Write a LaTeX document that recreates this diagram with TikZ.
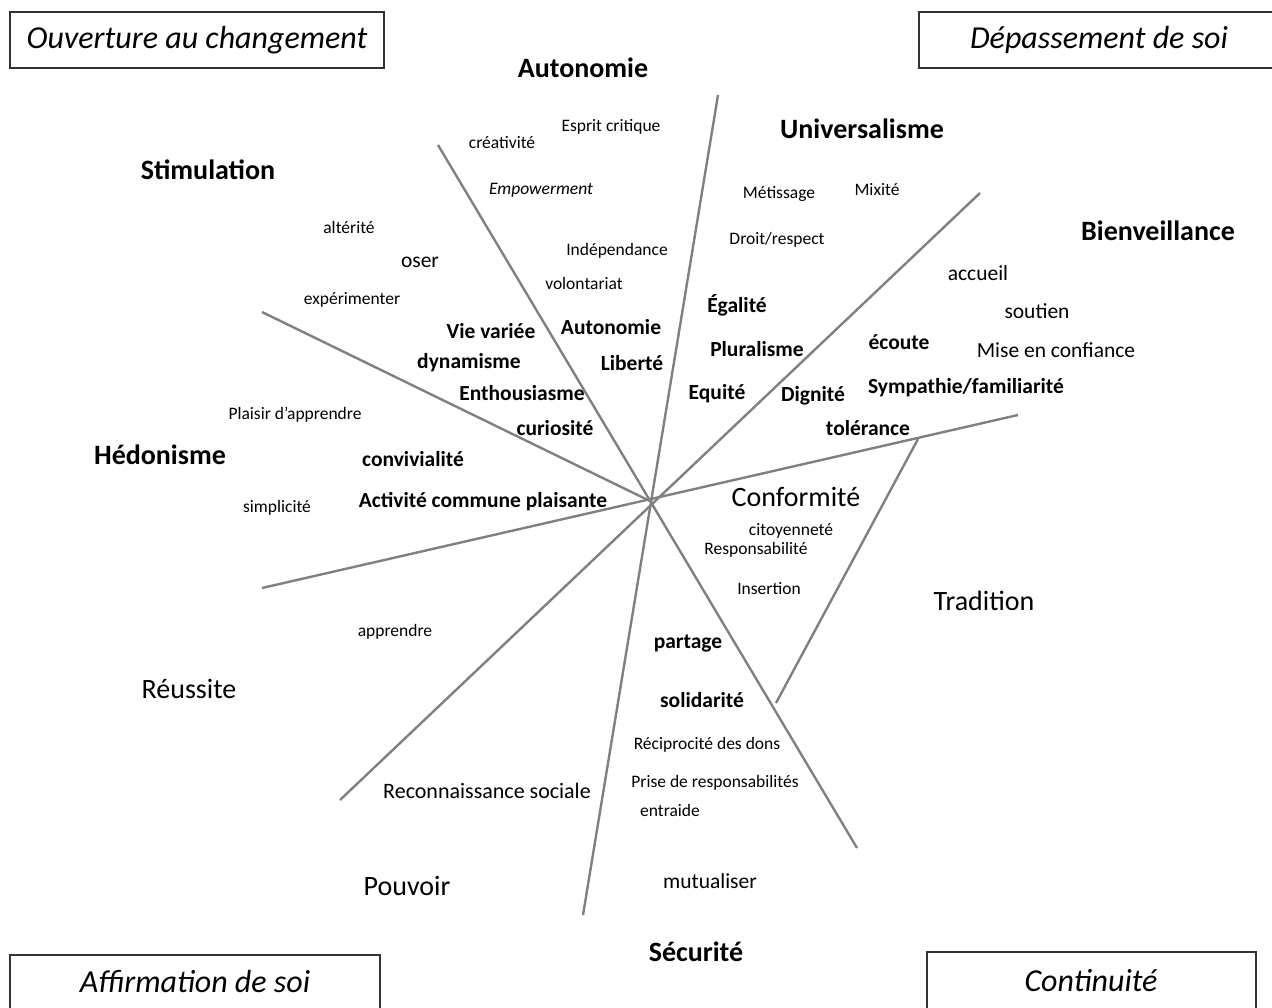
\documentclass[tikz,border=0pt]{standalone}
\usepackage{fontspec}
\setmainfont{Carlito}
\usepackage{tikz}
\usetikzlibrary{positioning}
\tikzset{
  value/.style={font=\fontsize{28}{30}\selectfont\bfseries},
  valuelt/.style={font=\fontsize{28}{30}\selectfont},
  kw/.style={font=\fontsize{21.5}{23}\selectfont\bfseries},
  kwlt/.style={font=\fontsize{21.5}{23}\selectfont},
  small/.style={font=\fontsize{17.5}{19}\selectfont},
  pole/.style={draw=black!80,line width=1.3pt,minimum height=56pt,font=\fontsize{32}{34}\selectfont\itshape},
  axe/.style={draw=black!50,line width=2.4pt}
}
\begin{document}
\begin{tikzpicture}[x=1pt,y=-1pt,inner sep=1pt]
        \useasboundingbox (0,0) rectangle (1272,1008);
        % axes
        \coordinate(c) at (652,502);
        \coordinate(a1) at (438,145);
        \coordinate(a2) at (857,848);
        \coordinate(b1) at (718,95);
        \coordinate(b2) at (583,915);
        \coordinate(u1) at (980,193);
        \coordinate(u2) at (340,800);
        \coordinate(d1) at (1018,415);
        \coordinate(d2) at (262,588);
        \coordinate(e1) at (262,312);
        \coordinate(t1) at (918,439);
        \coordinate(t2) at (776,703);
        \draw[axe] (a1) -- (a2);
        \draw[axe] (b1) -- (b2);
        \draw[axe] (u1) -- (u2);
        \draw[axe] (d1) -- (d2);
        \draw[axe] (e1) -- (c);
        \draw[axe] (t1) -- (t2);
        % poles
        \node(ouv)[pole,minimum width=374pt] at (197,40){Ouverture au changement};
        \node(dep)[pole,minimum width=360pt] at (1099,40){Dépassement de soi};
        \draw[draw=black!80,line width=1.3pt] (10,1012) |- (380,955) -- (380,1012);
        \node(aff)[font=\fontsize{32}{34}\selectfont\itshape] at (195,982){Affirmation de soi};
        \draw[draw=black!80,line width=1.3pt] (927,1012) |- (1256,952) -- (1256,1012);
        \node(cont)[font=\fontsize{32}{34}\selectfont\itshape] at (1091,981){Continuité};
        % valeurs
        \node(autonomie)[value] at (583,68){Autonomie};
        \node(univ)[value] at (862,129){Universalisme};
        \node(stim)[value] at (208,170){Stimulation};
        \node(bienv)[value] at (1158,231){Bienveillance};
        \node(hedo)[value] at (160,455){Hédonisme};
        \node(secu)[value] at (696,952){Sécurité};
        \node(conf)[valuelt] at (796,497){Conformité};
        \node(trad)[valuelt] at (984,601){Tradition};
        \node(reus)[valuelt] at (189,689){Réussite};
        \node(pouv)[valuelt] at (407,886){Pouvoir};
        % autonomie / stimulation
        \node(crea)[small] at (502,143){créativité};
        \node(esprit)[small] at (611,127){Esprit critique};
        \node(empow)[small,font=\fontsize{17.5}{19}\selectfont\itshape] at (541,190){Empowerment};
        \node(indep)[small] at (617,251){Indépendance};
        \node(volont)[small] at (584,283){volontariat};
        \node(alter)[small] at (349,227){altérité};
        \node(oser)[kwlt] at (420,262){oser};
        \node(exper)[small] at (352,300){expérimenter};
        \node(vie)[kw] at (491,331){Vie variée};
        \node(auto2)[kw] at (611,327){Autonomie};
        \node(dyna)[kw] at (469,363){dynamisme};
        \node(liberte)[kw] at (632,363){Liberté};
        \node(enth)[kw] at (522,393){Enthousiasme};
        \node(curio)[kw] at (555,428){curiosité};
        % hedonisme
        \node(plaisir)[small] at (295,415){Plaisir d’apprendre};
        \node(convi)[kw] at (413,459){convivialité};
        \node(simpl)[small] at (277,508){simplicité};
        \node(activ)[kw] at (483,502){Activité commune plaisante};
        % universalisme
        \node(metis)[small] at (779,194){Métissage};
        \node(mixite)[small] at (877,190){Mixité};
        \node(droit)[small] at (777,240){Droit/respect};
        \node(egal)[kw] at (737,305){Égalité};
        \node(plur)[kw] at (757,349){Pluralisme};
        \node(equite)[kw] at (717,394){Equité};
        % bienveillance
        \node(accueil)[kwlt] at (978,273){accueil};
        \node(soutien)[kwlt] at (1037,311){soutien};
        \node(mise)[kwlt] at (1056,350){Mise en confiance};
        \node(ecoute)[kw] at (899,342){écoute};
        \node(dign)[kw] at (813,396){Dignité};
        \node(symp)[kw] at (966,388){Sympathie/familiarité};
        \node(toler)[kw] at (868,428){tolérance};
        % conformite
        \node(citoy)[small] at (791,531){citoyenneté};
        \node(resp)[small] at (756,550){Responsabilité};
        \node(insert)[small] at (769,589){Insertion};
        % securite
        \node(partage)[kw] at (688,644){partage};
        \node(solid)[kw] at (702,700){solidarité};
        \node(recip)[small] at (707,745){Réciprocité des dons};
        \node(prise)[small] at (715,783){Prise de responsabilités};
        \node(entraide)[small] at (670,810){entraide};
        \node(mutu)[kwlt] at (710,881){mutualiser};
        % reussite / pouvoir
        \node(appr)[small] at (395,632){apprendre};
        \node(reco)[kwlt,font=\fontsize{22}{24}\selectfont] at (487,791){Reconnaissance sociale};
      \end{tikzpicture}
\end{document}
